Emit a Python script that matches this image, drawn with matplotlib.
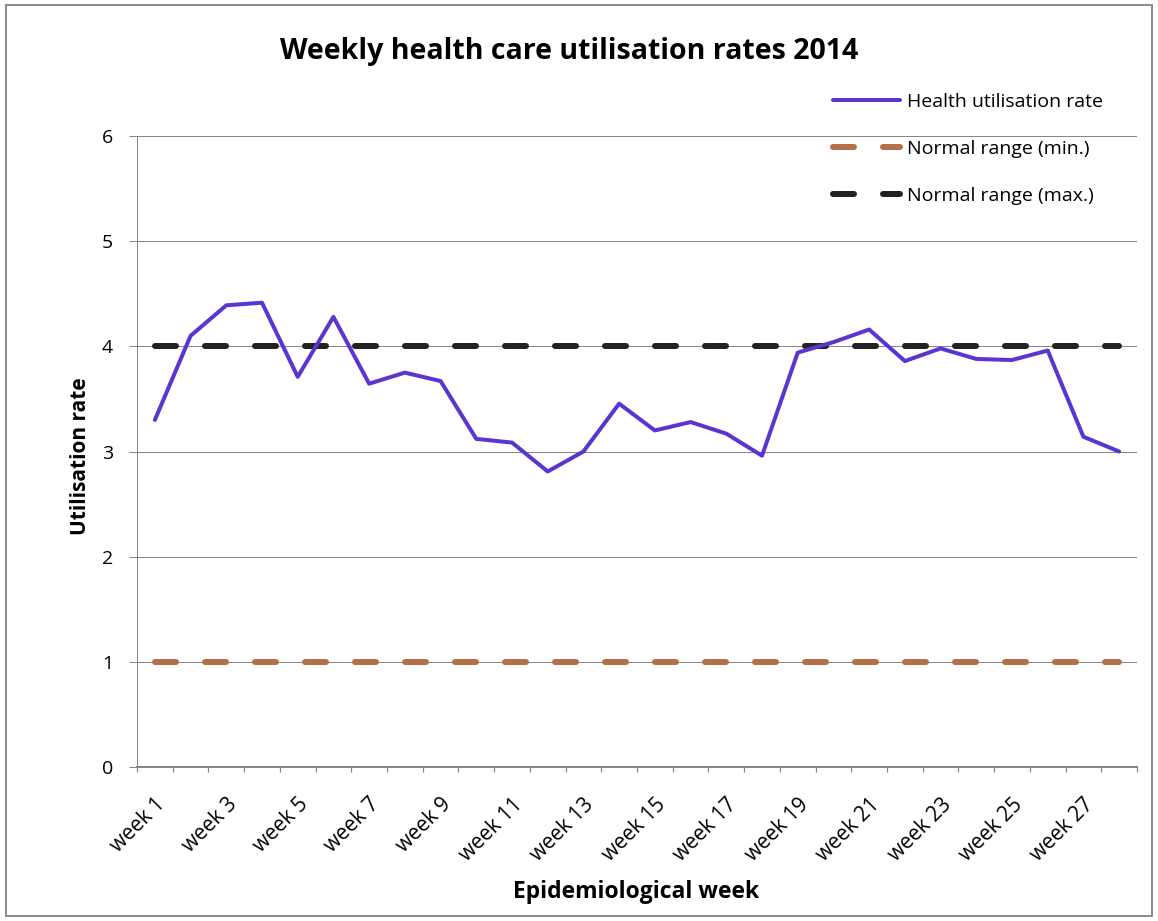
import matplotlib
matplotlib.use("Agg")
import matplotlib.pyplot as plt
from matplotlib.patches import Rectangle
import numpy as np

plt.rcParams['font.family'] = ['Open Sans', 'DejaVu Sans']
plt.rcParams['lines.scale_dashes'] = False

weeks = [f"week {i}" for i in range(1, 29)]
utilisation = [3.30, 4.10, 4.39, 4.415, 3.71, 4.28, 3.645, 3.75, 3.67, 3.12,
               3.085, 2.81, 3.00, 3.455, 3.20, 3.28, 3.17, 2.96, 3.94, 4.04,
               4.16, 3.86, 3.98, 3.88, 3.87, 3.96, 3.14, 3.00]
normal_min = [1.0] * 28
normal_max = [4.0] * 28
yticks = [0, 1, 2, 3, 4, 5, 6]

W, H = 1158, 921
fig = plt.figure(figsize=(W / 100, H / 100), dpi=100)
ax = fig.add_axes([137 / W, 1 - 767 / H, 1000 / W, 631 / H])

x = np.arange(1, len(weeks) + 1)
grid_c = '#868686'

pt = 72 / 100
dash = (21 * pt, 29 * pt)
ax.plot(x, utilisation, color='#5A35D2', lw=4 * pt, solid_joinstyle='round',
        solid_capstyle='round', label='Health utilisation rate', zorder=4)
ax.plot(x, normal_min, color='#B5704A', lw=6 * pt, dashes=dash,
        dash_capstyle='round', label='Normal range (min.)', zorder=3)
ax.plot(x, normal_max, color='#222222', lw=6 * pt, dashes=dash,
        dash_capstyle='round', label='Normal range (max.)', zorder=3)

ax.set_xlim(0.5, len(weeks) + 0.5)
ax.set_ylim(0, 6)
ax.set_yticks(yticks)
ax.set_yticklabels([str(v) for v in yticks], fontsize=14)
ax.yaxis.grid(True, color=grid_c, lw=1.0 * pt)
ax.set_axisbelow(True)

ax.set_xticks(x[::2])
ax.set_xticklabels(weeks[::2], rotation=45, ha='right', rotation_mode='anchor',
                   fontsize=15)
ax.set_xticks(np.arange(0.5, len(weeks) + 1, 1), minor=True)
ax.tick_params(axis='x', which='major', length=0, pad=27 * pt)
ax.tick_params(axis='x', which='minor', length=5 * pt, color=grid_c, width=1.2 * pt)
ax.tick_params(axis='y', length=8 * pt, color=grid_c, width=1.0 * pt, pad=16 * pt)

for s in ['top', 'right']:
    ax.spines[s].set_visible(False)
ax.spines['left'].set_color(grid_c)
ax.spines['left'].set_linewidth(1.0 * pt)
ax.spines['bottom'].set_color(grid_c)
ax.spines['bottom'].set_linewidth(2.0 * pt)

fig.text(569 / W, 1 - 59 / H, 'Weekly health care utilisation rates 2014',
         ha='center', va='baseline', fontsize=20.5, fontweight='bold')
fig.text(636 / W, 1 - 898 / H, 'Epidemiological week', ha='center', va='baseline',
         fontsize=16.5, fontweight='bold')
fig.text(86 / W, 1 - 535 / H, 'Utilisation rate', ha='left', va='baseline',
         rotation=90, rotation_mode='anchor', fontsize=15, fontweight='bold')

fig.legend(loc='upper left', bbox_to_anchor=(833 / W, 1 - 93 / H), frameon=False,
           fontsize=14, handlelength=3.45, handletextpad=0.36, labelspacing=1.49,
           borderpad=0, borderaxespad=0)

fig.patches.append(Rectangle((6 / W, 5 / H), 1146 / W, 911 / H, transform=fig.transFigure,
                             fill=False, edgecolor='#8c8c8c', lw=2 * pt))

fig.savefig('out.png', dpi=100)
